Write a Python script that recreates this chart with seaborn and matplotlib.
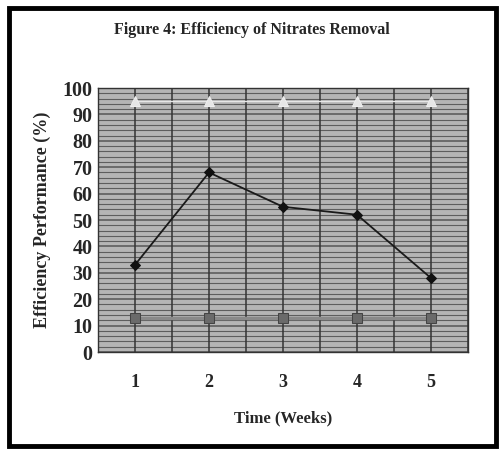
import numpy as np
import pandas as pd
import matplotlib
matplotlib.use('Agg')
import matplotlib.pyplot as plt
from matplotlib.patches import Rectangle
import seaborn as sns

# values
weeks = [1, 2, 3, 4, 5]
efficiency = [33, 68, 55, 52, 28]
baseline = [13, 13, 13, 13, 13]
upper = [95, 95, 95, 95, 95]

sns.set_theme(style='white')
plt.rcParams['font.family'] = ['Liberation Serif', 'DejaVu Serif']

fig = plt.figure(figsize=(5.03, 4.53), dpi=100)
ax = fig.add_axes([98 / 503, 1 - 352 / 453, 370 / 503, 264 / 453])
ax.set_facecolor('#b5b5b5')

# dense horizontal rules like the scanned Excel plot area
for y in np.arange(0, 101, 2):
    ax.axhline(y, color='#5e5e5e', lw=0.8 if y % 10 else 1.2, zorder=0)
for x in np.arange(0.5, 5.6, 0.5):
    ax.axvline(x, color='#333333', lw=1.1, zorder=0.5)

df = pd.DataFrame({'week': weeks, 'eff': efficiency, 'base': baseline, 'up': upper})
sns.lineplot(data=df, x='week', y='up', color='#e6e6e6', lw=1.0, marker='^',
             markersize=7, markeredgecolor='#eeeeee', ax=ax, zorder=3)
sns.lineplot(data=df, x='week', y='base', color='#8a8a8a', lw=2.5, marker='s',
             markersize=7, markerfacecolor='#6a6a6a', markeredgecolor='#444444',
             ax=ax, zorder=3)
sns.lineplot(data=df, x='week', y='eff', color='#1a1a1a', lw=1.3, marker='D',
             markersize=5, markerfacecolor='#111111', markeredgecolor='#111111',
             ax=ax, zorder=4)

ax.set_xlim(0.5, 5.5)
ax.set_ylim(0, 100)
ax.set_yticks(range(0, 101, 10))
ax.set_xticks(weeks)
ax.tick_params(axis='y', labelsize=14.5, pad=4, length=0)
ax.tick_params(axis='x', labelsize=13, pad=16, length=0)
for lab in ax.get_yticklabels() + ax.get_xticklabels():
    lab.set_fontweight('bold')
ax.set_xlabel('Time (Weeks)', fontsize=12, fontweight='bold', labelpad=14)
ax.set_ylabel('Efficiency Performance (%)', fontsize=13, fontweight='bold', labelpad=8)
for s in ax.spines.values():
    s.set_color('#333333')
    s.set_linewidth(1)

fig.text(252 / 503, 1 - 30 / 453, 'Figure 4: Efficiency of Nitrates Removal',
         ha='center', va='center', fontsize=11.5, fontweight='bold')

fig.patches.append(Rectangle((9 / 503, 7 / 453), 487 / 503, 438 / 453,
                             transform=fig.transFigure, fill=False,
                             edgecolor='black', lw=3.5))

fig.savefig('out.png', dpi=100)
